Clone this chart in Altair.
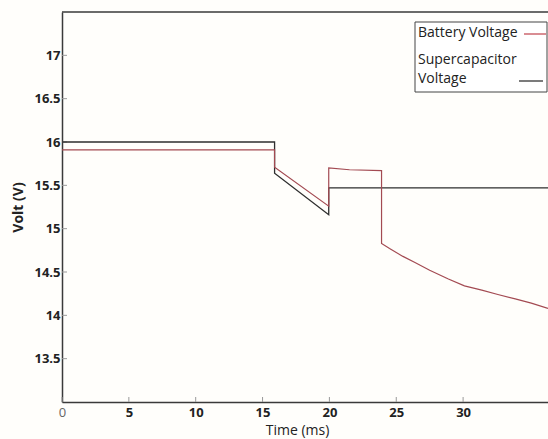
import altair as alt
import pandas as pd

# Battery voltage (red) series
bat_t = [0, 15.9, 15.9, 19.95, 19.95, 21.5, 23.9, 23.9, 24.5, 25.5, 26.4, 27.5,
         28.9, 30.1, 31.4, 32.6, 33.9, 35.1, 36.35]
bat_v = [15.91, 15.91, 15.71, 15.26, 15.70, 15.68, 15.67, 14.83, 14.77, 14.68, 14.61,
         14.52, 14.42, 14.34, 14.29, 14.24, 14.19, 14.14, 14.08]

# Supercapacitor voltage (black) series
sc_t = [0, 15.9, 15.9, 19.95, 19.95, 36.35]
sc_v = [16.0, 16.0, 15.64, 15.16, 15.47, 15.47]

x_ticks = [0, 5, 10, 15, 20, 25, 30]
y_ticks = [13.5, 14, 14.5, 15, 15.5, 16, 16.5, 17]

X_DOMAIN = [0, 36.35]
Y_DOMAIN = [13, 17.5]

FONT = "Open Sans"
W, H = 486, 390

bat = pd.DataFrame({"t": bat_t, "v": bat_v, "o": list(range(len(bat_t)))})
sc = pd.DataFrame({"t": sc_t, "v": sc_v, "o": list(range(len(sc_t)))})

xs = alt.Scale(domain=X_DOMAIN, nice=False, zero=False)
ys = alt.Scale(domain=Y_DOMAIN, nice=False, zero=False)

x_axis = alt.Axis(
    values=x_ticks, tickSize=0, labelPadding=4, labelFontSize=13, labelFont=FONT,
    labelFontWeight=alt.expr("datum.value == 0 ? 'normal' : 'bold'"),
    labelColor=alt.expr("datum.value == 0 ? '#666666' : '#222222'"),
    title="Time (ms)", titleFont=FONT, titleFontSize=14, titleFontWeight="normal",
    titleColor="#222222", titlePadding=4, titleX=235, grid=False,
    domainColor="#3a3a3a", domainWidth=1.5, labelFlush=False, format="~g",
)
y_axis = alt.Axis(
    values=y_ticks, tickSize=0, labelPadding=2, labelFontSize=13, labelFont=FONT,
    labelFontWeight="bold", labelColor="#222222", format="~g",
    title="Volt (V)", titleFont=FONT, titleFontSize=14, titleFontWeight="bold",
    titleColor="#222222", titlePadding=8, grid=False,
    domainColor="#3a3a3a", domainWidth=1.5,
)


def X(field):
    return alt.X(field, scale=xs, axis=x_axis)


def Y(field):
    return alt.Y(field, scale=ys, axis=y_axis)


sc_line = alt.Chart(sc).mark_line(color="#2e2e2e", strokeWidth=1.3).encode(
    x=X("t:Q"), y=Y("v:Q"), order="o:Q",
)
bat_line = alt.Chart(bat).mark_line(color="#a34a52", strokeWidth=1.2).encode(
    x=X("t:Q"), y=Y("v:Q"), order="o:Q",
)

# inward ticks
ytick_df = pd.DataFrame({"v": y_ticks})
xtick_df = pd.DataFrame({"t": x_ticks})
ytk = alt.Chart(ytick_df).mark_rule(color="#999999", strokeWidth=1).encode(
    y=Y("v:Q"), x=alt.value(0), x2=alt.value(5)
)
xtk = alt.Chart(xtick_df).mark_rule(color="#999999", strokeWidth=1).encode(
    x=X("t:Q"), y=alt.value(H), y2=alt.value(H - 5)
)

one = pd.DataFrame({"a": [0]})
top_border = alt.Chart(one).mark_rule(color="#3a3a3a", strokeWidth=1.5).encode(
    x=alt.value(0), x2=alt.value(W), y=alt.value(0)
)

# legend box
leg_box = alt.Chart(one).mark_rect(fill="white", stroke="#444444", strokeWidth=1).encode(
    x=alt.value(353), x2=alt.value(485), y=alt.value(10), y2=alt.value(80)
)
leg_labels = ["Battery Voltage", "Supercapacitor", "Voltage"]
leg_y = [21, 48, 67]
leg_txt = alt.Chart(pd.DataFrame({"label": leg_labels, "py": leg_y})).mark_text(
    align="left", baseline="middle", font=FONT, fontSize=14, color="#222222"
).encode(
    x=alt.value(356), y=alt.Y("py:Q", scale=None), text="label:N"
)
leg_red = alt.Chart(one).mark_rule(color="#c0404a", strokeWidth=1.2).encode(
    x=alt.value(462), x2=alt.value(484), y=alt.value(22)
)
leg_blk = alt.Chart(one).mark_rule(color="#333333", strokeWidth=1.3).encode(
    x=alt.value(457), x2=alt.value(481), y=alt.value(69)
)

chart = alt.layer(
    ytk, xtk, sc_line, bat_line, top_border, leg_box, leg_txt, leg_red, leg_blk
).properties(
    width=W, height=H,
    autosize=alt.AutoSizeParams(type="none"),
    padding={"left": 62, "top": 12, "right": 0, "bottom": 37},
    background="#fffefb",
).configure_view(stroke=None)

chart.save("out.html", embed_options={"renderer": "svg", "actions": False})
